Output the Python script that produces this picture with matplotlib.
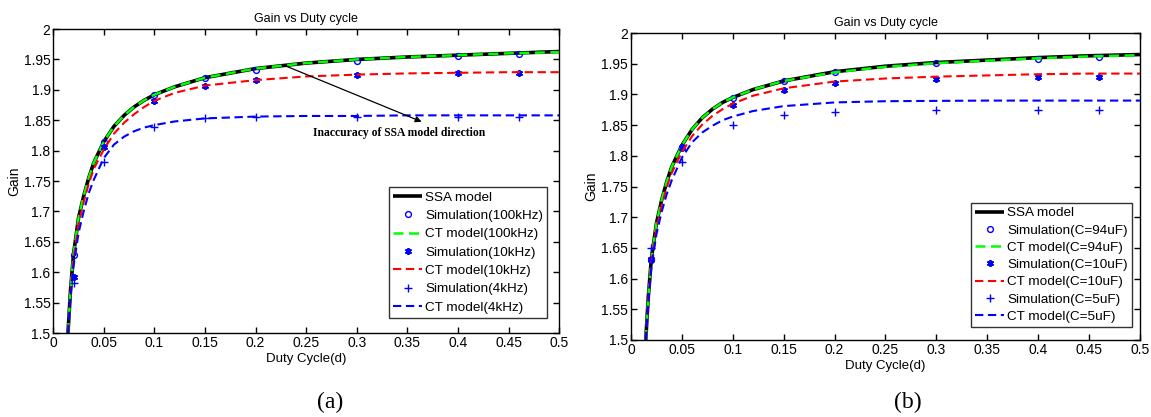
import matplotlib
matplotlib.use("Agg")
import matplotlib.pyplot as plt

plt.rcParams['font.family'] = ['Liberation Sans', 'DejaVu Sans']

# ---------------- data: panel (a), switching frequency ----------------
d_curve = [0.0145, 0.017, 0.02, 0.025, 0.03, 0.035, 0.04, 0.05, 0.06, 0.07, 0.08,
           0.09, 0.1, 0.12, 0.15, 0.2, 0.25, 0.3, 0.35, 0.4, 0.45, 0.5]

ssa_a = [1.5, 1.57, 1.63, 1.69, 1.725, 1.755, 1.78, 1.815, 1.840, 1.858, 1.872,
         1.883, 1.892, 1.905, 1.920, 1.935, 1.944, 1.950, 1.954, 1.957, 1.960, 1.963]
ct100k_a = [1.5, 1.57, 1.63, 1.69, 1.725, 1.755, 1.78, 1.815, 1.840, 1.858, 1.872,
            1.883, 1.892, 1.905, 1.920, 1.935, 1.944, 1.950, 1.954, 1.957, 1.960, 1.962]
ct10k_a = [1.5, 1.565, 1.62, 1.68, 1.715, 1.745, 1.77, 1.802, 1.828, 1.846, 1.860,
           1.872, 1.882, 1.895, 1.907, 1.916, 1.922, 1.925, 1.927, 1.928, 1.929, 1.929]
ct4k_a = [1.5, 1.56, 1.61, 1.665, 1.70, 1.73, 1.752, 1.788, 1.810, 1.823, 1.832,
          1.838, 1.842, 1.848, 1.853, 1.856, 1.857, 1.857, 1.858, 1.858, 1.858, 1.858]

d_sim = [0.02, 0.05, 0.1, 0.15, 0.2, 0.3, 0.4, 0.46]
sim100k_a = [1.628, 1.814, 1.892, 1.920, 1.933, 1.948, 1.956, 1.959]
sim10k_a = [1.592, 1.806, 1.882, 1.906, 1.916, 1.924, 1.928, 1.928]
sim4k_a = [1.582, 1.781, 1.839, 1.853, 1.855, 1.855, 1.856, 1.856]

labels_a = ['SSA model', 'Simulation(100kHz)', 'CT model(100kHz)',
            'Simulation(10kHz)', 'CT model(10kHz)',
            'Simulation(4kHz)', 'CT model(4kHz)']

# ---------------- data: panel (b), output capacitance ----------------
ssa_b = [1.5, 1.57, 1.632, 1.69, 1.727, 1.757, 1.782, 1.817, 1.843, 1.862, 1.876,
         1.887, 1.895, 1.908, 1.922, 1.937, 1.946, 1.952, 1.956, 1.960, 1.963, 1.965]
ct94u_b = [1.5, 1.57, 1.632, 1.69, 1.727, 1.757, 1.782, 1.817, 1.843, 1.862, 1.876,
           1.887, 1.895, 1.908, 1.922, 1.936, 1.945, 1.951, 1.955, 1.959, 1.962, 1.964]
ct10u_b = [1.5, 1.565, 1.625, 1.682, 1.718, 1.748, 1.772, 1.806, 1.832, 1.851, 1.865,
           1.876, 1.885, 1.898, 1.910, 1.921, 1.926, 1.929, 1.931, 1.933, 1.934, 1.934]
ct5u_b = [1.5, 1.562, 1.618, 1.672, 1.708, 1.737, 1.76, 1.797, 1.822, 1.838, 1.849,
          1.858, 1.864, 1.873, 1.881, 1.887, 1.889, 1.8895, 1.890, 1.890, 1.890, 1.890]

sim94u_b = [1.630, 1.815, 1.894, 1.922, 1.936, 1.951, 1.958, 1.961]
sim10u_b = [1.632, 1.813, 1.883, 1.907, 1.918, 1.925, 1.929, 1.929]
sim5u_b = [1.650, 1.790, 1.851, 1.866, 1.871, 1.874, 1.875, 1.875]

labels_b = ['SSA model', 'Simulation(C=94uF)', 'CT model(C=94uF)',
            'Simulation(C=10uF)', 'CT model(C=10uF)',
            'Simulation(C=5uF)', 'CT model(C=5uF)']

x_ticks = [0, 0.05, 0.1, 0.15, 0.2, 0.25, 0.3, 0.35, 0.4, 0.45, 0.5]
x_ticklabels = ['0', '0.05', '0.1', '0.15', '0.2', '0.25', '0.3', '0.35', '0.4', '0.45', '0.5']
y_ticks = [1.5, 1.55, 1.6, 1.65, 1.7, 1.75, 1.8, 1.85, 1.9, 1.95, 2.0]
y_ticklabels = ['1.5', '1.55', '1.6', '1.65', '1.7', '1.75', '1.8', '1.85', '1.9', '1.95', '2']

ASTERISK = (6, 2, 0)
DASH = (0, (4.0, 2.2))


def draw_panel(ax, ssa, ct1, sim1, sim2, ct2, sim3, ct3, labels, legend_anchor, spacing):
    ax.plot(d_curve, ssa, color='black', lw=2.6, solid_capstyle='butt', label=labels[0])
    ax.plot(d_sim, sim1, ls='none', marker='o', ms=4.2, mfc='none', mec='blue',
            mew=1.0, label=labels[1])
    ax.plot(d_curve, ct1, color='#00ff00', lw=1.8, ls=DASH, label=labels[2])
    ax.plot(d_sim, sim2, ls='none', marker=ASTERISK, ms=5, color='blue',
            mew=1.3, label=labels[3])
    ax.plot(d_curve, ct2, color='red', lw=1.5, ls=DASH, label=labels[4])
    ax.plot(d_sim, sim3, ls='none', marker='+', ms=6, color='blue',
            mew=1.0, label=labels[5])
    ax.plot(d_curve, ct3, color='blue', lw=1.5, ls=DASH, label=labels[6])

    ax.set_xlim(0, 0.5)
    ax.set_ylim(1.5, 2.0)
    ax.set_xticks(x_ticks)
    ax.set_xticklabels(x_ticklabels)
    ax.set_yticks(y_ticks)
    ax.set_yticklabels(y_ticklabels)
    ax.tick_params(direction='in', length=4, width=1.0, top=True, right=True,
                   labelsize=10, pad=2, colors='black')
    for s in ax.spines.values():
        s.set_linewidth(1.0)
    ax.set_title('Gain vs Duty cycle', fontsize=9, pad=5)
    ax.set_xlabel('Duty Cycle(d)', fontsize=9.5, labelpad=2)
    ax.set_ylabel('Gain', fontsize=10, labelpad=2)

    leg = ax.legend(loc='lower right', bbox_to_anchor=legend_anchor, fontsize=9.7,
                    frameon=True, fancybox=False, handlelength=2.2, handletextpad=0.2,
                    labelspacing=spacing, borderpad=0.3, borderaxespad=0.0, numpoints=1)
    leg.get_frame().set_edgecolor('black')
    leg.get_frame().set_linewidth(1.0)


fig = plt.figure(figsize=(11.51, 4.17), dpi=100)
ax_a = fig.add_axes([0.0463, 0.2014, 0.4396, 0.729])
ax_b = fig.add_axes([0.5482, 0.1847, 0.4422, 0.736])

draw_panel(ax_a, ssa_a, ct100k_a, sim100k_a, sim10k_a, ct10k_a, sim4k_a, ct4k_a,
           labels_a, (0.976, 0.05), 0.44)
draw_panel(ax_b, ssa_b, ct94u_b, sim94u_b, sim10u_b, ct10u_b, sim5u_b, ct5u_b,
           labels_b, (0.984, 0.042), 0.36)

ax_a.annotate('', xy=(0.364, 1.8475), xytext=(0.230, 1.939),
              arrowprops=dict(arrowstyle='-|>', color='black', lw=0.9,
                              mutation_scale=9, shrinkA=0, shrinkB=0))
ax_a.text(0.342, 1.829, 'Inaccuracy of SSA model direction', ha='center', va='center',
          fontsize=8.4, fontweight='bold', family=['Liberation Serif', 'DejaVu Serif'])

fig.text(330 / 1151, 1 - 402 / 417, '(a)', ha='center', va='center', fontsize=17,
         family=['Liberation Serif', 'DejaVu Serif'])
fig.text(908 / 1151, 1 - 402 / 417, '(b)', ha='center', va='center', fontsize=17,
         family=['Liberation Serif', 'DejaVu Serif'])

fig.savefig('out.png', dpi=100)
